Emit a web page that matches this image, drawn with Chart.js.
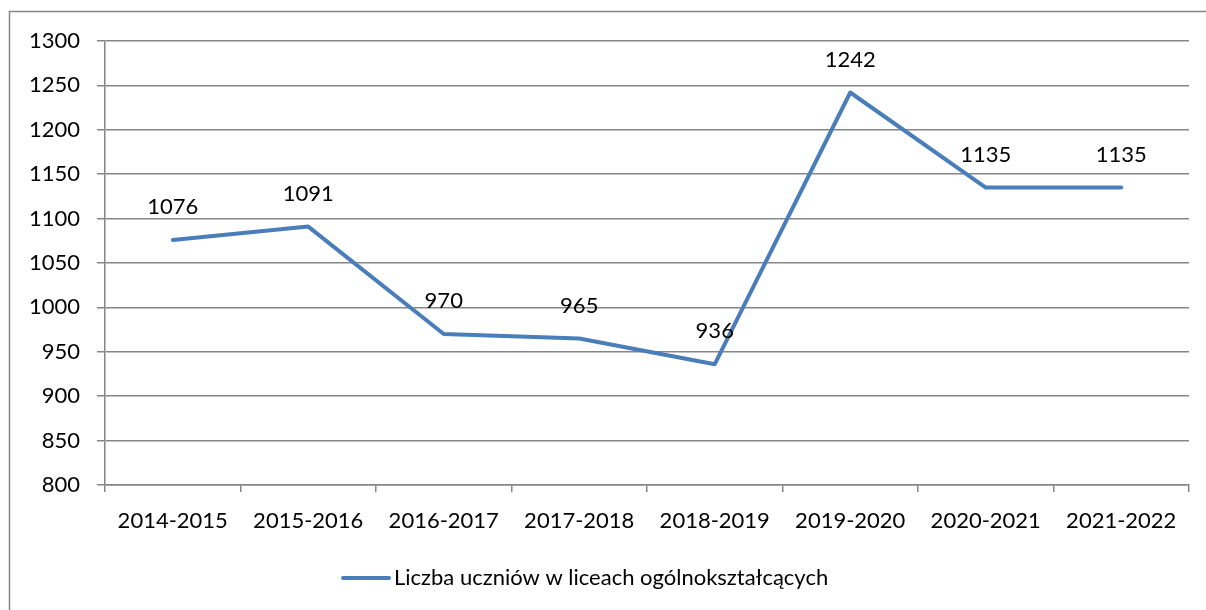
<!DOCTYPE html>
<html>
<head>
<meta charset="utf-8">
<script src="https://cdn.jsdelivr.net/npm/chart.js@4/dist/chart.umd.min.js"></script>
<style>
  html, body { margin: 0; padding: 0; background: #fff; }
  #wrap { position: relative; width: 1206px; height: 610px; }
</style>
</head>
<body>
<div id="wrap"><canvas id="chart" width="1206" height="610"></canvas></div>
<script>
const years = ["2014-2015", "2015-2016", "2016-2017", "2017-2018", "2018-2019", "2019-2020", "2020-2021", "2021-2022"];
const students = [1076, 1091, 970, 965, 936, 1242, 1135, 1135];
const seriesLabel = "Liczba uczniów w liceach ogólnokształcących";

const LINE = "#4a7ebb";
const GRID = "#868686";
const FONT = { family: "Lato, 'Open Sans', sans-serif", size: 22 };

Chart.defaults.font.family = FONT.family;
Chart.defaults.font.size = FONT.size;
Chart.defaults.color = "#000";

// outer chart border, like the Excel frame
const frame = {
  id: "frame",
  beforeDraw(chart) {
    const ctx = chart.ctx;
    ctx.save();
    ctx.strokeStyle = GRID;
    ctx.lineWidth = 1.5;
    ctx.strokeRect(9.5, 11.5, 1400, 800);
    ctx.restore();
  }
};

const valueLabels = {
  id: "valueLabels",
  afterDatasetsDraw(chart) {
    const ctx = chart.ctx;
    const meta = chart.getDatasetMeta(0);
    ctx.save();
    ctx.font = FONT.size + "px " + FONT.family;
    ctx.fillStyle = "#000";
    ctx.textAlign = "center";
    ctx.textBaseline = "middle";
    meta.data.forEach((pt, i) => {
      ctx.fillText(String(students[i]), pt.x, pt.y - 33);
    });
    ctx.restore();
  }
};

// legend drawn by hand: line sample sits right against the text
const legendLine = {
  id: "legendLine",
  afterDraw(chart) {
    const ctx = chart.ctx;
    const y = 578;
    const x0 = 341;
    ctx.save();
    ctx.strokeStyle = LINE;
    ctx.lineWidth = 4;
    ctx.lineCap = "round";
    ctx.beginPath();
    ctx.moveTo(x0 + 2, y);
    ctx.lineTo(x0 + 48, y);
    ctx.stroke();
    ctx.font = FONT.size + "px " + FONT.family;
    ctx.fillStyle = "#000";
    ctx.textBaseline = "middle";
    ctx.fillText(chart.data.datasets[0].label, x0 + 53, y);
    ctx.restore();
  }
};

new Chart(document.getElementById("chart"), {
  type: "line",
  data: {
    labels: years,
    datasets: [{
      label: seriesLabel,
      data: students,
      borderColor: LINE,
      backgroundColor: LINE,
      borderWidth: 4,
      borderCapStyle: "round",
      borderJoinStyle: "round",
      pointRadius: 0,
      pointHoverRadius: 0,
      tension: 0
    }]
  },
  options: {
    responsive: false,
    animation: false,
    layout: { padding: { top: 41, right: 17, left: 0, bottom: 0 } },
    plugins: {
      legend: { display: false },
      tooltip: { enabled: false }
    },
    scales: {
      x: {
        offset: true,
        grid: { offset: true, drawOnChartArea: false, drawTicks: true, tickLength: 7, color: GRID, lineWidth: 1.5 },
        border: { color: GRID, width: 1.5 },
        ticks: { padding: 16, maxRotation: 0, autoSkip: false, color: "#000" },
        afterFit(s) { s.height = 125; }
      },
      y: {
        min: 800,
        max: 1300,
        grid: { color: GRID, lineWidth: 1.5, tickLength: 8 },
        border: { color: GRID, width: 1.5 },
        ticks: { stepSize: 50, padding: 17, color: "#000", callback: v => String(v) },
        afterFit(s) { s.width = 105; }
      }
    }
  },
  plugins: [frame, valueLabels, legendLine]
});
</script>
</body>
</html>
